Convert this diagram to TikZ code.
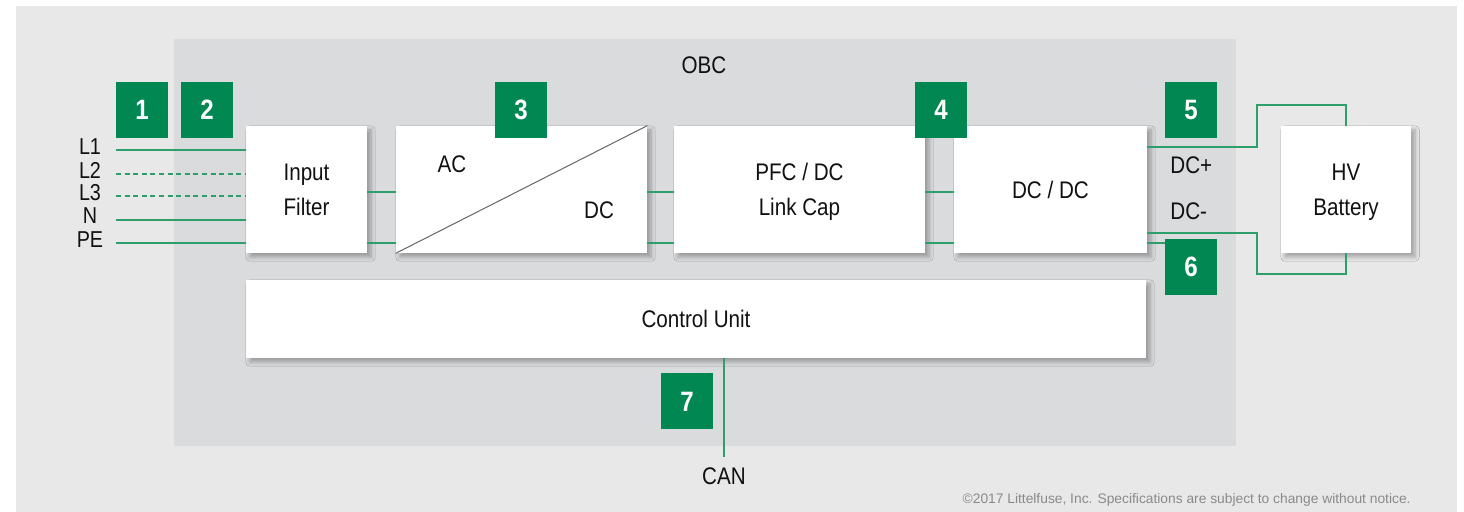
\documentclass[tikz,border=0pt]{standalone}
\usepackage{fontspec}
\setmainfont{Liberation Sans}[FakeStretch=0.86]
\newfontfamily\plainsans{Liberation Sans}
\usetikzlibrary{shadows.blur}

\definecolor{outerbg}{HTML}{E8E8E8}
\definecolor{innerbg}{HTML}{DADBDD}
\definecolor{badgegreen}{HTML}{008752}
\definecolor{wiregreen}{HTML}{2E9E6B}
\definecolor{inktext}{HTML}{111111}
\definecolor{notegray}{HTML}{8A8A8A}

\tikzset{
  every node/.style={font=\fontsize{12}{17.5}\selectfont, text=inktext},
  block/.style={fill=white, inner sep=0pt, align=center, text depth=0pt,
    blur shadow={shadow xshift=2pt, shadow yshift=-2pt, shadow blur steps=6, shadow opacity=30}},
  badge/.style={fill=badgegreen, minimum width=26pt, minimum height=28pt, inner sep=0pt,
    text=white, font=\fontsize{14}{14}\bfseries\selectfont},
  wire/.style={draw=wiregreen, line width=0.75pt},
  dashwire/.style={wire, dashed, dash pattern=on 2.5pt off 1.8pt},
  linelabel/.style={font=\fontsize{11.5}{12}\selectfont, inner sep=0pt},
}

\begin{document}
\begin{tikzpicture}[x=0.5pt, y=-0.5pt]
\useasboundingbox (0,0) rectangle (1464,512);

% backgrounds
\fill[outerbg] (16,6) rectangle (1457,512);
\fill[innerbg] (174,39) rectangle (1236,446);
\node (obc) at (704,65) {OBC};

% row levels of the wires
\coordinate (ya) at (0,192);
\coordinate (yb) at (0,243);
\coordinate (yp) at (0,147);
\coordinate (yn) at (0,233);

% blocks
\node[block, minimum width=60.5pt, minimum height=63.5pt] (filter) at (306.5,189.5) {Input\\Filter};
\node[block, minimum width=125.5pt, minimum height=63.5pt] (acdc) at (521.5,189.5) {};
\node[block, minimum width=125.5pt, minimum height=63.5pt] (pfc) at (799.5,189.5) {PFC / DC\\Link Cap};
\node[block, minimum width=96.5pt, minimum height=63.5pt] (dcdc) at (1050.5,189.5) {DC / DC};
\node[block, minimum width=65pt, minimum height=63.5pt] (bat) at (1346,189.5) {HV\\Battery};
\node[block, minimum width=450pt, minimum height=39pt] (ctrl) at (696,319) {Control Unit};

% converter split
\draw[draw=gray!80!black, line width=0.5pt] (acdc.south west) -- (acdc.north east);
\node (ac) at (452,164) {AC};
\node (dc) at (599,210) {DC};

% mains inputs
\node[linelabel] (l1) at (90,147) {L1};
\node[linelabel] (l2) at (90,170) {L2};
\node[linelabel] (l3) at (90,192.5) {L3};
\node[linelabel] (n) at (90,215.5) {N};
\node[linelabel] (pe) at (90,239.5) {PE};
\coordinate (s1) at (116,150);
\coordinate (s2) at (116,174);
\coordinate (s3) at (116,196);
\coordinate (sn) at (116,220);
\coordinate (spe) at (116,243);
\draw[wire] (s1) -- (s1 -| filter.west);
\draw[dashwire] (s2) -- (s2 -| filter.west);
\draw[dashwire] (s3) -- (s3 -| filter.west);
\draw[wire] (sn) -- (sn -| filter.west);
\draw[wire] (spe) -- (spe -| filter.west);

% links between blocks
\draw[wire] (filter.east |- ya) -- (acdc.west |- ya);
\draw[wire] (filter.east |- yb) -- (acdc.west |- yb);
\draw[wire] (acdc.east |- ya) -- (pfc.west |- ya);
\draw[wire] (acdc.east |- yb) -- (pfc.west |- yb);
\draw[wire] (pfc.east |- ya) -- (dcdc.west |- ya);
\draw[wire] (pfc.east |- yb) -- (dcdc.west |- yb);

% badges
\node[badge] (b1) at (142,110) {1};
\node[badge] (b2) at (207,110) {2};
\node[badge] (b3) at (521,110) {3};
\node[badge] (b4) at (941,110) {4};
\node[badge] (b5) at (1191,110) {5};
\node[badge] (b6) at (1191,267) {6};
\node[badge] (b7) at (687,401.5) {7};

% battery connection
\coordinate (dp) at (1257,105);
\coordinate (dm) at (1257,274);
\draw[wire] (dcdc.east |- yp) -| (dp) -| (bat.north);
\draw[wire] (dcdc.east |- yn) -| (dm) -| (bat.south);
\draw[wire] (dcdc.east |- yb) -- (b6.west |- yb);
\node[anchor=west, inner sep=0pt] (dcplus) at (1170,165) {DC+};
\node[anchor=west, inner sep=0pt] (dcminus) at (1170,211) {DC-};

% CAN bus
\coordinate (canend) at (724,457);
\draw[wire] (ctrl.south -| canend) -- (canend);
\node (can) at (724,476) {CAN};

% footnote
\node[anchor=east, inner sep=0pt, text=notegray, font=\plainsans\fontsize{6.9}{8}\selectfont] (note) at (1411,500)
  {\textcopyright 2017 Littelfuse, Inc. Specifications are subject to change without notice.};
\end{tikzpicture}
\end{document}
